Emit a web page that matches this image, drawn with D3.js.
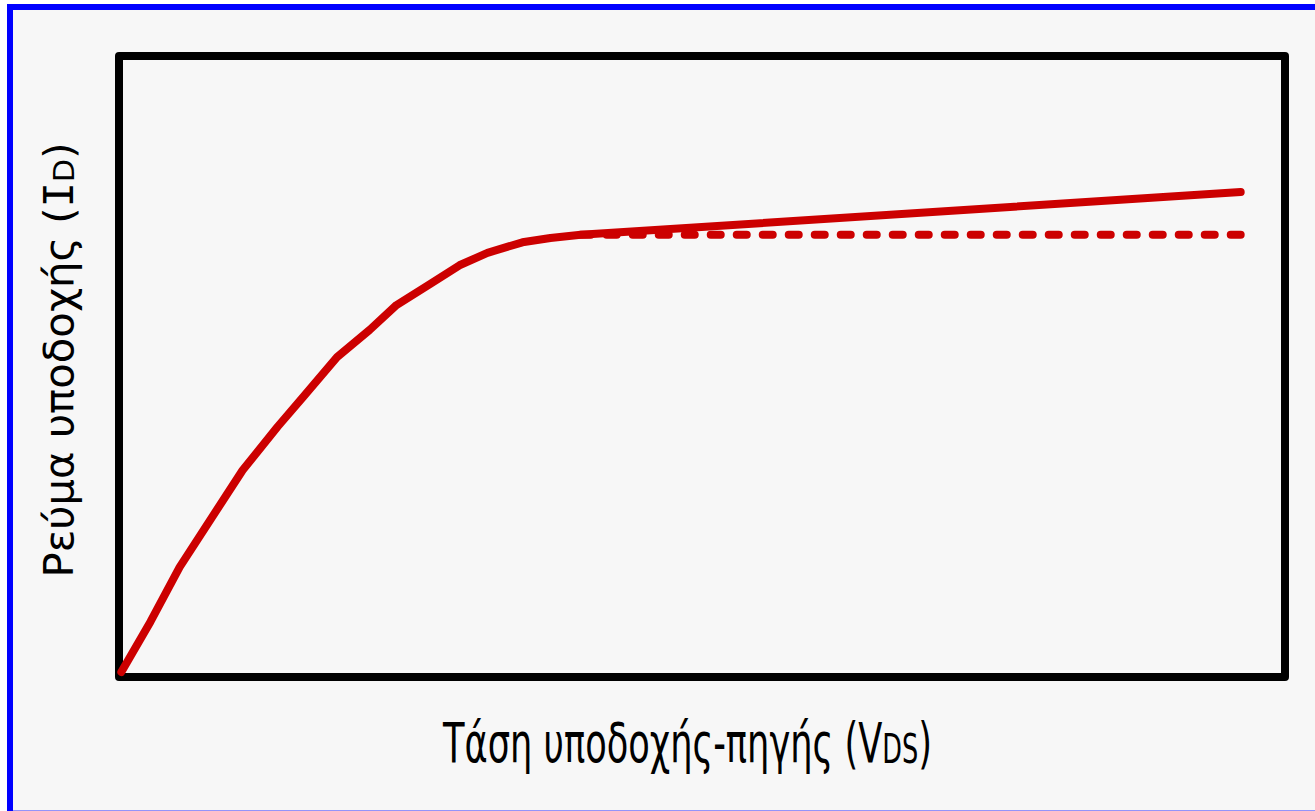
<!DOCTYPE html>
<html>
<head>
<meta charset="utf-8">
<script src="https://cdn.jsdelivr.net/npm/d3@7/dist/d3.min.js"></script>
<style>
  html, body { margin: 0; padding: 0; background: #ffffff; }
  svg { display: block; }
</style>
</head>
<body>
<script>
// MOSFET output characteristic: drain current vs drain-source voltage (arbitrary units)
const vdsPoints = [0.02, 0.27, 0.52, 1.06, 1.36, 1.58, 1.87, 2.15, 2.38, 2.67, 2.92, 3.16, 3.46, 3.70, 3.96, 9.62];
const idPoints  = [0.08, 0.89, 1.77, 3.33, 4.03, 4.51, 5.15, 5.59, 5.99, 6.33, 6.63, 6.83, 7.00, 7.07, 7.12, 7.81];

// Ideal saturation (no channel-length modulation)
const vdsIdeal = [3.96, 9.62];
const idIdeal  = [7.12, 7.12];

const xLabelMain = "Τάση υποδοχής-πηγής (V";
const xLabelSub = "DS";
const yLabelMain = "Ρεύμα υποδοχής (";
const yLabelSym = "I";
const yLabelSub = "D";

const W = 1315, H = 811;
const svg = d3.select("body").append("svg").attr("width", W).attr("height", H);

// page panel with blue frame
svg.append("rect")
  .attr("x", 10).attr("y", 7)
  .attr("width", 1320).attr("height", 806.6)
  .attr("fill", "#f7f7f7")
  .attr("stroke", "#0000ff")
  .attr("stroke-width", 6);

const x = d3.scaleLinear().domain([0, 10]).range([119, 1285]);
const y = d3.scaleLinear().domain([0, 10]).range([677, 56]);

// plot box
svg.append("rect")
  .attr("x", x(0)).attr("y", y(10))
  .attr("width", x(10) - x(0)).attr("height", y(0) - y(10))
  .attr("fill", "none")
  .attr("stroke", "#000")
  .attr("stroke-width", 8)
  .attr("stroke-linejoin", "round");

const line = d3.line().x(d => x(d[0])).y(d => y(d[1])).curve(d3.curveLinear);

const ideal = vdsIdeal.map((v, i) => [v, idIdeal[i]]);
svg.append("path")
  .attr("d", line(ideal))
  .attr("fill", "none")
  .attr("stroke", "#cc0000")
  .attr("stroke-width", 8)
  .attr("stroke-dasharray", "10,16")
  .attr("stroke-linecap", "round");

const real = vdsPoints.map((v, i) => [v, idPoints[i]]);
svg.append("path")
  .attr("d", line(real))
  .attr("fill", "none")
  .attr("stroke", "#cc0000")
  .attr("stroke-width", 8)
  .attr("stroke-linecap", "round")
  .attr("stroke-linejoin", "round");

// axis titles
const xt = svg.append("text")
  .attr("x", 687.5).attr("y", 762)
  .attr("text-anchor", "middle")
  .attr("font-family", "DejaVu Sans, sans-serif")
  .attr("font-size", 55)
  .attr("fill", "#000")
  .attr("textLength", 489)
  .attr("lengthAdjust", "spacingAndGlyphs");
xt.append("tspan").text(xLabelMain);
xt.append("tspan").attr("font-size", 40).attr("dy", 1).text(xLabelSub);
xt.append("tspan").attr("dy", -1).text(")");

const yt = svg.append("text")
  .attr("transform", "translate(73,360) rotate(-90)")
  .attr("text-anchor", "middle")
  .attr("font-family", "DejaVu Sans, sans-serif")
  .attr("font-size", 40)
  .attr("fill", "#000")
  .attr("textLength", 435)
  .attr("lengthAdjust", "spacingAndGlyphs");
yt.append("tspan").text(yLabelMain);
yt.append("tspan").attr("font-family", "DejaVu Sans Mono, monospace").text(yLabelSym);
yt.append("tspan").attr("font-size", 29).attr("dy", 1).text(yLabelSub);
yt.append("tspan").attr("dy", -1).text(")");
</script>
</body>
</html>
